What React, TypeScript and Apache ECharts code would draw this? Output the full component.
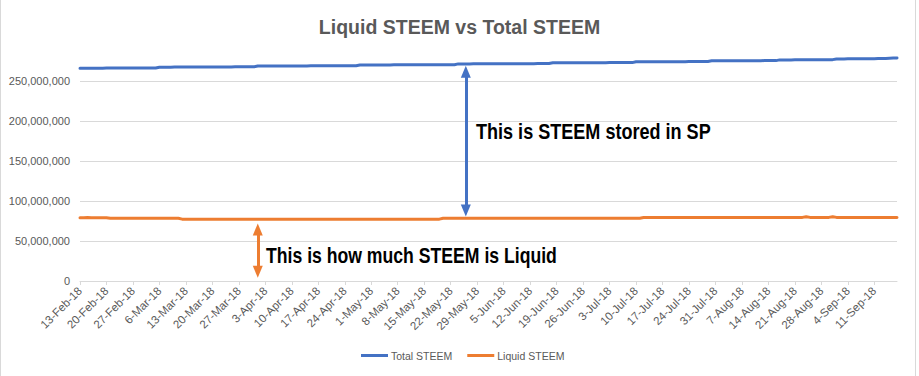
import React, { useEffect, useRef } from "react";
import * as echarts from "echarts";

const START_DATE = Date.UTC(2018, 1, 13);
const DAY_COUNT = 217;
const MONTHS = ["Jan","Feb","Mar","Apr","May","Jun","Jul","Aug","Sep","Oct","Nov","Dec"];
const categories: string[] = [];
for (let i = 0; i < DAY_COUNT; i++) {
  const d = new Date(START_DATE + i * 86400000);
  categories.push(`${d.getUTCDate()}-${MONTHS[d.getUTCMonth()]}-18`);
}

// values in millions of STEEM, one per day, 7 per row
const totalSteemM = [
  265.9,265.9,265.9,266.0,266.0,266.0,266.0,
  266.1,266.1,266.1,266.1,266.2,266.2,266.2,
  266.2,266.2,266.3,266.3,266.3,266.3,266.3,
  267.3,267.3,267.3,267.3,267.4,267.4,267.4,
  267.4,267.4,267.5,267.5,267.5,267.5,267.5,
  267.6,267.6,267.6,267.6,267.6,267.6,267.7,
  267.7,267.7,267.7,267.7,267.7,268.7,268.7,
  268.7,268.7,268.8,268.8,268.8,268.8,268.8,
  268.9,268.9,268.9,268.9,268.9,269.0,269.0,
  269.0,269.0,269.0,269.0,269.0,269.1,269.1,
  269.1,269.1,269.1,269.1,270.0,270.0,270.0,
  270.0,270.1,270.1,270.1,270.1,270.1,270.2,
  270.2,270.2,270.2,270.2,270.3,270.3,270.3,
  270.3,270.3,270.3,270.4,270.4,270.4,270.4,
  270.4,270.4,271.4,271.4,271.4,271.4,271.5,
  271.5,271.5,271.5,271.5,271.6,271.6,271.6,
  271.6,271.6,271.6,271.7,271.7,271.7,271.7,
  271.7,271.7,271.8,271.8,271.8,271.8,272.7,
  272.7,272.7,272.7,272.8,272.8,272.8,272.8,
  272.8,272.9,272.9,272.9,272.9,272.9,272.9,
  273.0,273.0,273.0,273.0,273.0,273.0,273.0,
  274.0,274.0,274.0,274.0,274.1,274.1,274.1,
  274.1,274.1,274.2,274.2,274.2,274.2,274.2,
  274.3,274.3,274.3,274.3,274.3,274.3,275.2,
  275.2,275.2,275.2,275.3,275.3,275.3,275.3,
  275.3,275.4,275.4,275.4,275.4,275.4,275.5,
  275.5,275.5,275.5,276.4,276.4,276.4,276.4,
  276.5,276.5,276.5,276.5,276.6,276.6,276.6,
  276.6,276.7,276.7,276.7,277.6,277.6,277.6,
  277.7,277.7,277.7,277.8,277.8,277.8,277.9,
  277.9,278.0,278.0,278.1,278.3,278.6,278.9,
];

const liquidSteemM = [
  79.2,79.2,79.3,79.2,79.2,79.2,79.1,
  79.1,78.4,78.4,78.4,78.3,78.4,78.4,
  78.4,78.4,78.3,78.4,78.4,78.4,78.4,
  78.4,78.4,78.4,78.4,78.4,78.4,77.3,
  77.2,77.2,77.2,77.2,77.2,77.2,77.2,
  77.2,77.2,77.2,77.2,77.2,77.2,77.2,
  77.2,77.2,77.2,77.2,77.2,77.2,77.2,
  77.2,77.2,77.2,77.2,77.2,77.2,77.2,
  77.2,77.2,77.2,77.2,77.2,77.2,77.2,
  77.2,77.2,77.2,77.2,77.2,77.2,77.2,
  77.2,77.2,77.2,77.2,77.2,77.2,77.2,
  77.2,77.2,77.2,77.2,77.2,77.2,77.2,
  77.2,77.2,77.2,77.2,77.2,77.2,77.2,
  77.2,77.2,77.2,77.2,77.3,78.4,78.5,
  78.5,78.5,78.5,78.5,78.5,78.5,78.5,
  78.5,78.5,78.5,78.5,78.5,78.5,78.5,
  78.5,78.5,78.5,78.5,78.5,78.5,78.5,
  78.5,78.5,78.5,78.5,78.5,78.5,78.5,
  78.5,78.5,78.5,78.5,78.5,78.5,78.5,
  78.5,78.5,78.5,78.5,78.5,78.5,78.5,
  78.5,78.5,78.5,78.5,78.5,78.5,78.5,
  78.5,78.5,79.4,79.5,79.5,79.5,79.5,
  79.5,79.5,79.5,79.5,79.5,79.5,79.5,
  79.5,79.5,79.5,79.5,79.5,79.5,79.5,
  79.5,79.5,79.5,79.5,79.5,79.5,79.5,
  79.5,79.5,79.5,79.5,79.5,79.5,79.5,
  79.5,79.5,79.5,79.5,79.5,79.5,79.5,
  79.5,79.5,79.5,80.4,79.5,79.5,79.5,
  79.5,79.5,79.5,80.4,79.5,79.5,79.5,
  79.5,79.5,79.5,79.5,79.5,79.5,79.5,
  79.5,79.5,79.5,79.5,79.5,79.5,79.4,
];

const yTicks = { min: 0, max: 300000000, interval: 50000000 };

const titleText = "Liquid STEEM vs Total STEEM";
const seriesNames = ["Total STEEM", "Liquid STEEM"];
const noteSP = "This is STEEM stored in SP";
const noteLiquid = "This is how much STEEM is Liquid";

// annotation arrows: [category index, top value, bottom value]
const spArrow = [102, 261.5e6, 88e6];
const liquidArrow = [47, 64.5e6, 11.5e6];

const BLUE = "#4472C4";
const ORANGE = "#ED7D31";
const GRID = "#D9D9D9";
const LABEL = "#595959";
const FONT = "'Liberation Sans', Arial, sans-serif";
const NOTE_FONT = "bold 21.5px 'Liberation Sans', Arial, sans-serif";

function arrowMarkLine(arrow: number[], color: string) {
  return {
    silent: true,
    symbol: ["triangle", "triangle"],
    symbolSize: [10, 12],
    label: { show: false },
    emphasis: { disabled: true },
    lineStyle: { color, width: 3, type: "solid" },
    data: [[
      { coord: [categories[arrow[0]], arrow[1]] },
      { coord: [categories[arrow[0]], arrow[2]] },
    ]],
  };
}

export default function App() {
  const ref = useRef<HTMLDivElement>(null);
  useEffect(() => {
    if (!ref.current) return;
    const chart = echarts.init(ref.current, null, { renderer: "svg" });
    chart.setOption({
      animation: false,
      backgroundColor: "#ffffff",
      title: {
        text: titleText,
        left: "center",
        top: 12,
        textStyle: { fontFamily: FONT, fontSize: 19.5, fontWeight: "bold", color: LABEL },
      },
      legend: {
        bottom: 10,
        left: 356,
        icon: "rect",
        itemWidth: 27,
        itemHeight: 3,
        itemGap: 15,
        textStyle: { fontFamily: FONT, fontSize: 10.5, color: LABEL, padding: [0, 0, 0, -2] },
        data: seriesNames,
      },
      grid: { left: 80, right: 22, top: 41, bottom: 95 },
      xAxis: {
        type: "category",
        data: categories,
        boundaryGap: false,
        axisLine: { lineStyle: { color: GRID, width: 1 } },
        axisTick: { show: true, interval: 6, length: 4, lineStyle: { color: GRID } },
        axisLabel: {
          interval: 6,
          rotate: 45,
          margin: 8,
          fontFamily: FONT,
          fontSize: 11.5,
          color: LABEL,
        },
        splitLine: { show: false },
      },
      yAxis: {
        type: "value",
        min: yTicks.min,
        max: yTicks.max,
        interval: yTicks.interval,
        axisLine: { show: false },
        axisTick: { show: false },
        axisLabel: {
          showMaxLabel: false,
          margin: 10,
          fontFamily: FONT,
          fontSize: 11,
          color: LABEL,
          formatter: (v: number) => v.toLocaleString("en-US"),
        },
        splitLine: { show: true, showMaxLine: false, lineStyle: { color: GRID, width: 1 } },
      },
      series: [
        {
          name: seriesNames[0],
          type: "line",
          data: totalSteemM.map((v) => v * 1e6),
          showSymbol: false,
          symbol: "none",
          lineStyle: { color: BLUE, width: 3, join: "round", cap: "round" },
          itemStyle: { color: BLUE },
          markLine: arrowMarkLine(spArrow, BLUE),
        },
        {
          name: seriesNames[1],
          type: "line",
          data: liquidSteemM.map((v) => v * 1e6),
          showSymbol: false,
          symbol: "none",
          lineStyle: { color: ORANGE, width: 3, join: "round", cap: "round" },
          itemStyle: { color: ORANGE },
          markLine: arrowMarkLine(liquidArrow, ORANGE),
        },
      ],
      graphic: [
        {
          type: "text",
          x: 476,
          y: 131,
          scaleX: 0.84,
          style: {
            text: noteSP,
            fill: "#000000",
            font: NOTE_FONT,
            textAlign: "left",
            textVerticalAlign: "middle",
          },
        },
        {
          type: "text",
          x: 266,
          y: 255,
          scaleX: 0.82,
          style: {
            text: noteLiquid,
            fill: "#000000",
            font: NOTE_FONT,
            textAlign: "left",
            textVerticalAlign: "middle",
          },
        },
      ],
    });
    return () => chart.dispose();
  }, []);
  return (
    <div style={{ position: "absolute", left: 0, top: 0, width: 919, height: 376 }}>
      <div ref={ref} style={{ position: "absolute", left: 0, top: 0, width: 919, height: 376 }} />
      <div
        style={{
          position: "absolute",
          left: 0,
          top: 0,
          width: 916,
          height: 376,
          boxSizing: "border-box",
          borderLeft: "1px solid #D9D9D9",
          borderRight: "1px solid #D9D9D9",
          pointerEvents: "none",
        }}
      />
    </div>
  );
}
